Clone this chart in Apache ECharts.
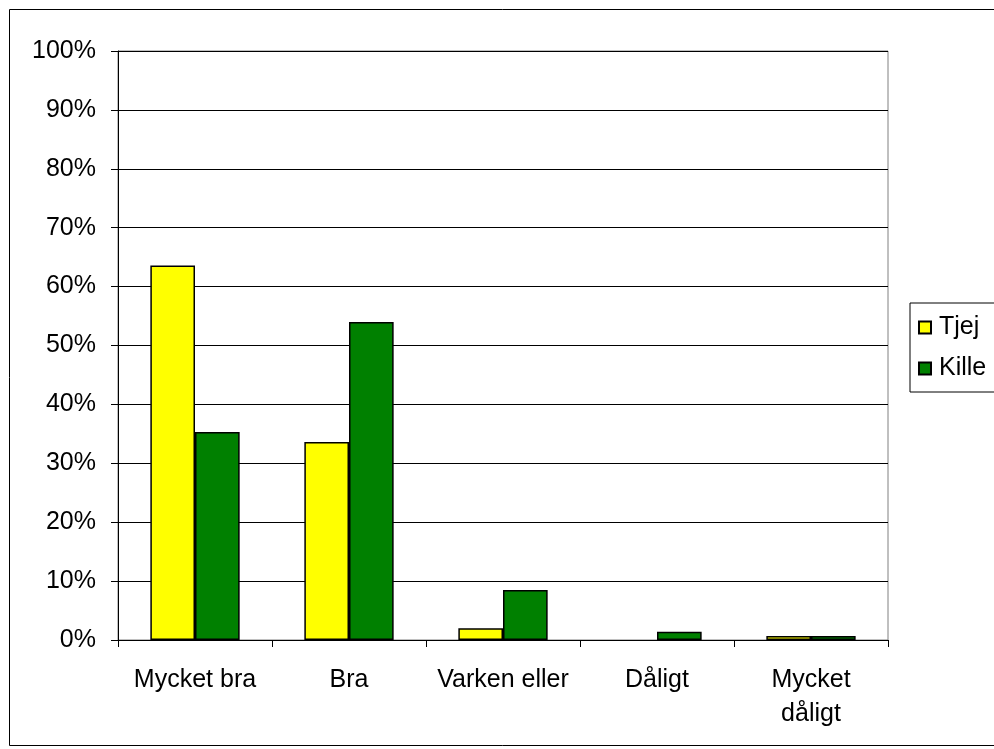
<!DOCTYPE html>
<html>
<head>
<meta charset="utf-8">
<script src="https://cdn.jsdelivr.net/npm/echarts@6/dist/echarts.min.js"></script>
<style>
  html, body { margin: 0; padding: 0; background: #fff; }
  #chart { width: 994px; height: 749px; }
</style>
</head>
<body>
<div id="chart"></div>
<script>
const categories = ["Mycket bra", "Bra", "Varken eller", "Dåligt", "Mycket\ndåligt"];
const tjej = [63.6, 33.6, 2.0, 0, 0.7];
const kille = [35.3, 54.0, 8.5, 1.4, 0.7];

const chart = echarts.init(document.getElementById("chart"));
const font = "Liberation Sans, Arial, sans-serif";
// a zero bar has no outline in the original
const noZero = arr => arr.map(v => (v === 0 ? "-" : v));

chart.setOption({
  backgroundColor: "#fff",
  animation: false,
  graphic: [{
    type: "rect",
    shape: { x: 9.5, y: 9.5, width: 1000, height: 736 },
    style: { fill: "none", stroke: "#000", lineWidth: 1 },
    silent: true
  }],
  legend: {
    orient: "vertical",
    left: 910,
    top: 303,
    width: 100,
    padding: [12, 20, 11, 8],
    itemGap: 16,
    itemWidth: 12,
    itemHeight: 12,
    borderColor: "#000",
    borderWidth: 1,
    icon: "rect",
    textStyle: { fontFamily: font, fontSize: 25, color: "#000", padding: [0, 0, 0, 3] },
    data: ["Tjej", "Kille"]
  },
  grid: {
    left: 118,
    right: 106,
    top: 51,
    bottom: 109,
    show: true,
    borderColor: "#808080",
    borderWidth: 1
  },
  xAxis: {
    type: "category",
    data: categories,
    axisLine: { lineStyle: { color: "#000", width: 1 } },
    axisTick: { show: true, interval: 0, length: 7, lineStyle: { color: "#000" } },
    axisLabel: { interval: 0, hideOverlap: false, fontFamily: font, fontSize: 25, color: "#000", margin: 23, lineHeight: 34 }
  },
  yAxis: {
    type: "value",
    min: 0,
    max: 100,
    interval: 10,
    axisLine: { show: true, lineStyle: { color: "#000", width: 1 } },
    axisTick: { show: true, length: 7, lineStyle: { color: "#000" } },
    splitLine: { lineStyle: { color: "#000", width: 1 } },
    axisLabel: { fontFamily: font, fontSize: 25, color: "#000", margin: 22, formatter: "{value}%" }
  },
  series: [
    {
      name: "Tjej",
      type: "bar",
      data: noZero(tjej),
      barGap: "0%",
      barCategoryGap: "42%",
      itemStyle: { color: "#ffff00", borderColor: "#000", borderWidth: 1.5 }
    },
    {
      name: "Kille",
      type: "bar",
      data: noZero(kille),
      itemStyle: { color: "#008000", borderColor: "#000", borderWidth: 1.5 }
    }
  ]
});
</script>
</body>
</html>
